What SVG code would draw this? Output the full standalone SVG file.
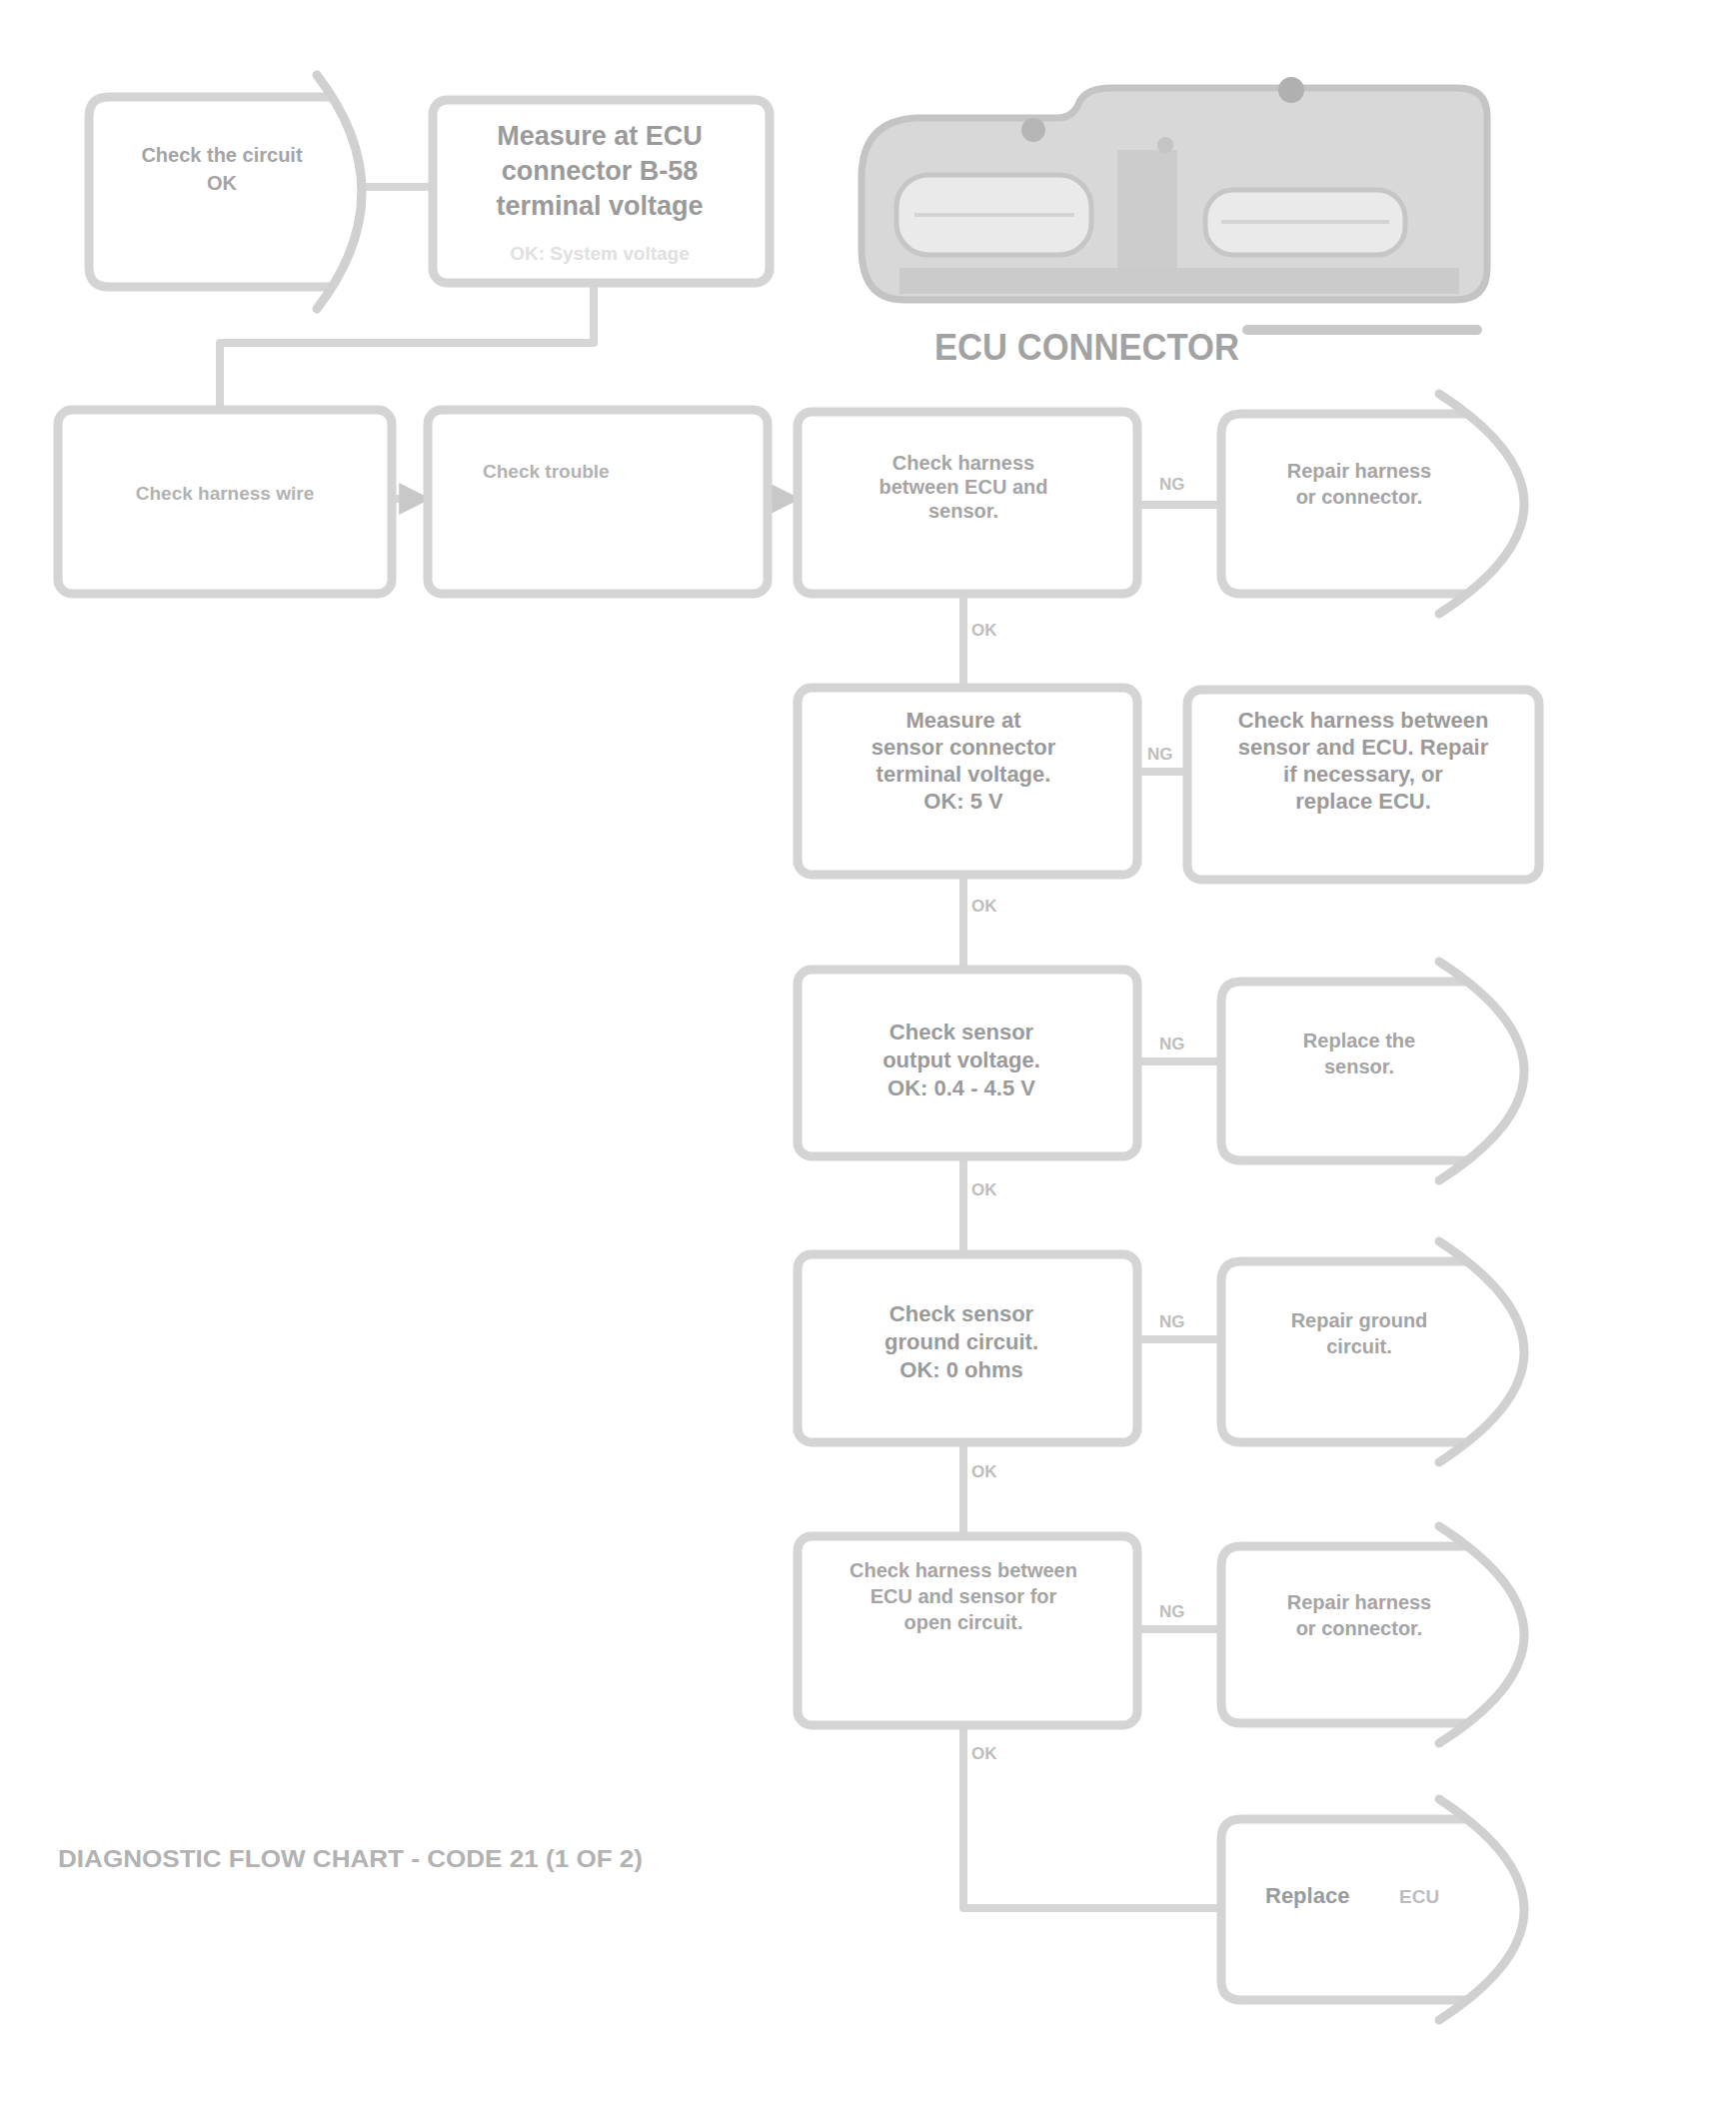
<svg xmlns="http://www.w3.org/2000/svg" width="1737" height="2110" viewBox="0 0 1737 2110">
<style>
.box{fill:#ffffff;stroke:#d4d4d4;stroke-width:9;stroke-linejoin:round}
.arc{fill:none;stroke:#d0d0d0;stroke-width:9;stroke-linecap:round}
.ln{fill:none;stroke:#d6d6d6;stroke-width:8;stroke-linejoin:round}
.t{font-family:"Liberation Sans",Arial,sans-serif;font-weight:bold;font-size:20px;fill:#a4a4a4;text-anchor:middle}
.th{font-family:"Liberation Sans",Arial,sans-serif;font-weight:bold;font-size:22px;fill:#9a9a9a;text-anchor:middle}
.tl{font-family:"Liberation Sans",Arial,sans-serif;font-weight:bold;font-size:19px;fill:#bcbcbc}
.lbl{font-family:"Liberation Sans",Arial,sans-serif;font-weight:bold;font-size:17px;fill:#bdbdbd}
</style>
<defs>
<marker id="ah" viewBox="0 0 10 10" refX="9" refY="5" markerWidth="4" markerHeight="4" orient="auto">
<path d="M0,0 L10,5 L0,10 Z" fill="#c8c8c8"/>
</marker>
</defs>
<rect width="1737" height="2110" fill="#ffffff"/>

<g id="connectors">
<line class="ln" x1="362" y1="187" x2="433" y2="187"/>
<polyline class="ln" points="594,283 594,343 220,343 220,410"/>
<line class="ln" x1="392" y1="499" x2="428" y2="499" marker-end="url(#ah)"/>
<line class="ln" x1="768" y1="499" x2="798" y2="499" marker-end="url(#ah)"/>
<line class="ln" x1="1138" y1="505" x2="1222" y2="505"/>
<text class="lbl" x="1160" y="490">NG</text>
<line class="ln" x1="964" y1="594" x2="964" y2="688"/>
<text class="lbl" x="972" y="636">OK</text>
<line class="ln" x1="1138" y1="772" x2="1188" y2="772"/>
<text class="lbl" x="1148" y="760">NG</text>
<line class="ln" x1="964" y1="875" x2="964" y2="970"/>
<text class="lbl" x="972" y="912">OK</text>
<line class="ln" x1="1138" y1="1062" x2="1222" y2="1062"/>
<text class="lbl" x="1160" y="1050">NG</text>
<line class="ln" x1="964" y1="1157" x2="964" y2="1255"/>
<text class="lbl" x="972" y="1196">OK</text>
<line class="ln" x1="1138" y1="1340" x2="1222" y2="1340"/>
<text class="lbl" x="1160" y="1328">NG</text>
<line class="ln" x1="964" y1="1443" x2="964" y2="1537"/>
<text class="lbl" x="972" y="1478">OK</text>
<line class="ln" x1="1138" y1="1630" x2="1222" y2="1630"/>
<text class="lbl" x="1160" y="1618">NG</text>
<polyline class="ln" points="964,1726 964,1909 1222,1909"/>
<text class="lbl" x="972" y="1760">OK</text>
</g>

<g id="nodeA">
<path class="box" d="M331,97 L109,97 Q89,97 89,117 L89,267 Q89,287 109,287 L331,287"/>
<path class="arc" d="M317,75 Q407,192 317,309"/>
<text class="t" x="222" y="162">Check the circuit</text>
<text class="t" x="222" y="190">OK</text>
</g>

<g id="nodeB">
<rect class="box" x="433" y="100" width="337" height="183" rx="14"/>
<text class="th" x="600" y="145" style="font-size:27px">Measure at ECU</text>
<text class="th" x="600" y="180" style="font-size:27px">connector B-58</text>
<text class="th" x="600" y="215" style="font-size:27px">terminal voltage</text>
<text class="tl" x="600" y="260" style="text-anchor:middle;fill:#e0e0e0">OK: System voltage</text>
</g>

<g id="ecuConnector">
<path d="M905,300 Q862,300 862,248 L862,178 Q862,120 918,118 L1058,118 Q1074,118 1080,102 Q1087,88 1112,88 L1458,88 Q1488,88 1488,116 L1488,268 Q1488,300 1456,300 Z" fill="#d8d8d8" stroke="#c4c4c4" stroke-width="7"/>
<rect x="897" y="175" width="195" height="80" rx="32" fill="#eaeaea" stroke="#c6c6c6" stroke-width="5"/>
<line x1="915" y1="215" x2="1075" y2="215" stroke="#d4d4d4" stroke-width="4"/>
<rect x="1206" y="190" width="200" height="65" rx="28" fill="#eaeaea" stroke="#c6c6c6" stroke-width="5"/>
<line x1="1222" y1="222" x2="1390" y2="222" stroke="#d4d4d4" stroke-width="4"/>
<rect x="1118" y="150" width="60" height="120" fill="#cccccc"/>
<rect x="900" y="268" width="560" height="26" fill="#cbcbcb"/>
<circle cx="1292" cy="90" r="13" fill="#b0b0b0"/>
<circle cx="1034" cy="130" r="12" fill="#b6b6b6"/>
<circle cx="1166" cy="145" r="8" fill="#c4c4c4"/>
<text x="935" y="360" style="font-family:'Liberation Sans',Arial,sans-serif;font-weight:bold;font-size:36px;fill:#a2a2a2" textLength="305" lengthAdjust="spacingAndGlyphs">ECU CONNECTOR</text>
<line x1="1248" y1="330" x2="1478" y2="330" stroke="#c8c8c8" stroke-width="10" stroke-linecap="round"/>
</g>

<g id="node1">
<rect class="box" x="58" y="410" width="334" height="184" rx="14"/>
<text class="tl" x="225" y="500" style="text-anchor:middle;fill:#b2b2b2">Check harness wire</text>
</g>

<g id="node2">
<rect class="box" x="428" y="410" width="340" height="184" rx="14"/>
<text class="tl" x="483" y="478" style="fill:#b2b2b2">Check trouble</text>
</g>

<g id="node3">
<rect class="box" x="798" y="412" width="340" height="182" rx="14"/>
<text class="t" x="964" y="470">Check harness</text>
<text class="t" x="964" y="494">between ECU and</text>
<text class="t" x="964" y="518">sensor.</text>
</g>

<g id="node4">
<path class="box" d="M1468,414 L1242,414 Q1222,414 1222,434 L1222,574 Q1222,594 1242,594 L1468,594"/>
<path class="arc" d="M1440,394 Q1610,504 1440,614"/>
<text class="t" x="1360" y="478">Repair harness</text>
<text class="t" x="1360" y="504">or connector.</text>
</g>

<g id="node5">
<rect class="box" x="798" y="688" width="340" height="187" rx="14"/>
<text class="th" x="964" y="728">Measure at</text>
<text class="th" x="964" y="755">sensor connector</text>
<text class="th" x="964" y="782">terminal voltage.</text>
<text class="th" x="964" y="809">OK: 5 V</text>
</g>

<g id="node6">
<rect class="box" x="1188" y="690" width="352" height="190" rx="14"/>
<text class="th" x="1364" y="728">Check harness between</text>
<text class="th" x="1364" y="755">sensor and ECU. Repair</text>
<text class="th" x="1364" y="782">if necessary, or</text>
<text class="th" x="1364" y="809">replace ECU.</text>
</g>

<g id="node7">
<rect class="box" x="798" y="970" width="340" height="187" rx="14"/>
<text class="th" x="962" y="1040">Check sensor</text>
<text class="th" x="962" y="1068">output voltage.</text>
<text class="th" x="962" y="1096">OK: 0.4 - 4.5 V</text>
</g>

<g id="node8">
<path class="box" d="M1468,982 L1242,982 Q1222,982 1222,1002 L1222,1141 Q1222,1161 1242,1161 L1468,1161"/>
<path class="arc" d="M1440,962 Q1610,1072 1440,1181"/>
<text class="t" x="1360" y="1048">Replace the</text>
<text class="t" x="1360" y="1074">sensor.</text>
</g>

<g id="node9">
<rect class="box" x="798" y="1255" width="340" height="188" rx="14"/>
<text class="th" x="962" y="1322">Check sensor</text>
<text class="th" x="962" y="1350">ground circuit.</text>
<text class="th" x="962" y="1378">OK: 0 ohms</text>
</g>

<g id="node10">
<path class="box" d="M1468,1262 L1242,1262 Q1222,1262 1222,1282 L1222,1423 Q1222,1443 1242,1443 L1468,1443"/>
<path class="arc" d="M1440,1242 Q1610,1353 1440,1463"/>
<text class="t" x="1360" y="1328">Repair ground</text>
<text class="t" x="1360" y="1354">circuit.</text>
</g>

<g id="node11">
<rect class="box" x="798" y="1537" width="340" height="189" rx="14"/>
<text class="t" x="964" y="1578">Check harness between</text>
<text class="t" x="964" y="1604">ECU and sensor for</text>
<text class="t" x="964" y="1630">open circuit.</text>
</g>

<g id="node12">
<path class="box" d="M1468,1547 L1242,1547 Q1222,1547 1222,1567 L1222,1704 Q1222,1724 1242,1724 L1468,1724"/>
<path class="arc" d="M1440,1527 Q1610,1636 1440,1744"/>
<text class="t" x="1360" y="1610">Repair harness</text>
<text class="t" x="1360" y="1636">or connector.</text>
</g>

<g id="node13">
<path class="box" d="M1468,1820 L1242,1820 Q1222,1820 1222,1840 L1222,1981 Q1222,2001 1242,2001 L1468,2001"/>
<path class="arc" d="M1440,1800 Q1610,1911 1440,2021"/>
<text class="th" x="1266" y="1904" style="text-anchor:start">Replace</text>
<text class="tl" x="1400" y="1904">ECU</text>
</g>

<g id="caption">
<text x="58" y="1868" style="font-family:'Liberation Sans',Arial,sans-serif;font-weight:bold;font-size:24px;fill:#b2b2b2" textLength="585" lengthAdjust="spacingAndGlyphs">DIAGNOSTIC FLOW CHART - CODE 21 (1 OF 2)</text>
</g>
</svg>
